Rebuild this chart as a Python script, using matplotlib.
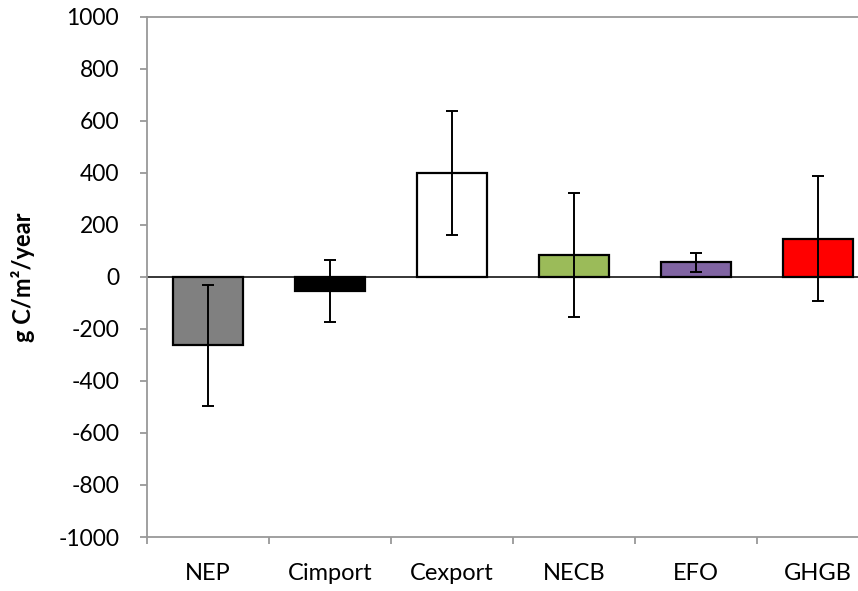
import numpy as np
import matplotlib
matplotlib.use("Agg")
import matplotlib.pyplot as plt

categories = ["NEP", "Cimport", "Cexport", "NECB", "EFO", "GHGB"]
values = [-263, -55, 400, 85, 56, 148]
errors = [232, 120, 238, 237, 36, 242]
colors = ["#808080", "#000000", "#FFFFFF", "#9BBB59", "#8064A2", "#FF0000"]
yticks = list(range(-1000, 1001, 200))

plt.rcParams["font.family"] = ["Lato", "DejaVu Sans"]

fig = plt.figure(figsize=(8.58, 5.91), dpi=100)
# plot area runs past the right edge, as in the reference
ax = fig.add_axes([147 / 858, 1 - 537 / 591, 732 / 858, 520 / 591])

x = np.arange(len(categories))
ax.axhline(0, color="black", lw=1.1, zorder=1)
ax.bar(x, values, width=0.575, color=colors, edgecolor="black", linewidth=1.6, zorder=2)
ax.errorbar(x, values, yerr=errors, fmt="none", ecolor="black", elinewidth=1.4,
            capsize=4.5, capthick=1.4, zorder=3)

ax.set_xlim(-0.5, len(categories) - 0.5)
ax.set_ylim(-1000, 1000)
ax.set_yticks(yticks)
ax.set_yticklabels([str(t) for t in yticks], fontsize=16.5)
ax.set_xticks(x)
ax.set_xticklabels(categories, fontsize=17)
ax.set_xticks(np.arange(-0.5, len(categories), 1.0), minor=True)
ax.tick_params(axis="x", which="major", length=0, pad=19)
ax.tick_params(axis="x", which="minor", length=5, width=1.3, color="#999999", direction="out")
ax.tick_params(axis="y", length=5, width=1.3, color="#999999", direction="out", pad=15)

for side in ["left", "bottom", "top", "right"]:
    ax.spines[side].set_color("#999999")
    ax.spines[side].set_linewidth(1.3)

ax.set_ylabel("g C/m²/year", fontsize=17, fontweight="bold")
ax.yaxis.set_label_coords(-0.153, 0.5)

fig.savefig("out.png", dpi=100)
